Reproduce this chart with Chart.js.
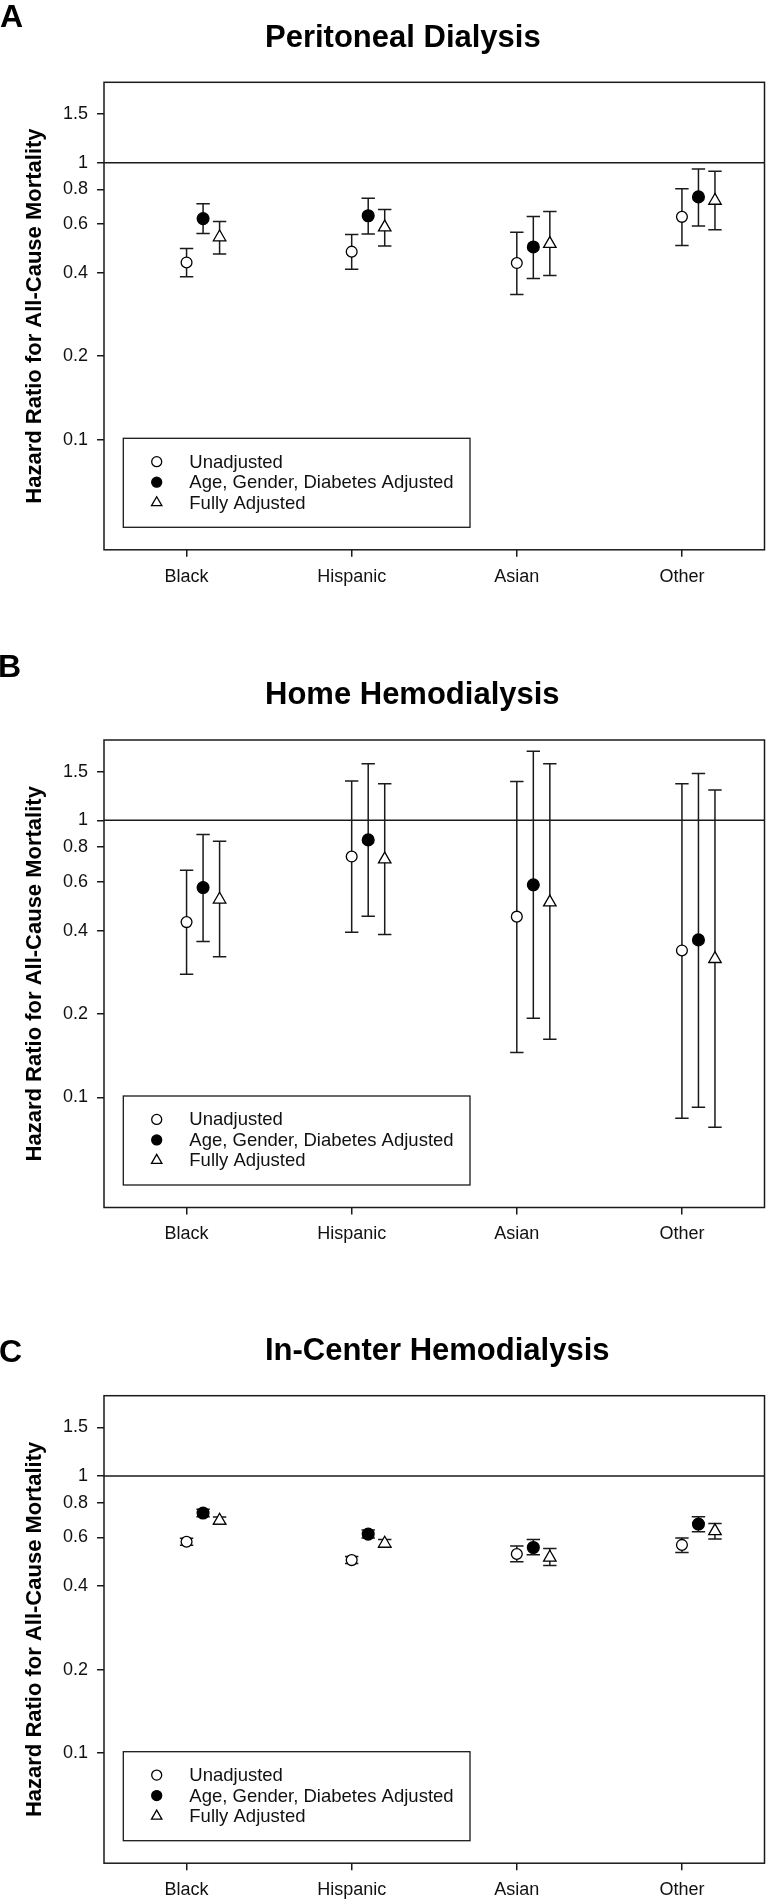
<!DOCTYPE html>
<html>
<head>
<meta charset="utf-8">
<script src="https://cdn.jsdelivr.net/npm/chart.js@4.4.1/dist/chart.umd.min.js"></script>
<style>
  html, body { margin: 0; padding: 0; background: #fff; }
  body { position: relative; width: 773px; height: 1899px; overflow: hidden; }
  canvas { position: absolute; left: 0; }
</style>
</head>
<body>
<canvas id="chartPD" width="773" height="620" style="top:0px"></canvas>
<canvas id="chartHHD" width="773" height="620" style="top:640px"></canvas>
<canvas id="chartICHD" width="773" height="620" style="top:1300px"></canvas>
<script>
const categories = ["Black", "Hispanic", "Asian", "Other"];
const seriesNames = ["Unadjusted", "Age, Gender, Diabetes Adjusted", "Fully Adjusted"];
const tickValues = [0.1, 0.2, 0.4, 0.6, 0.8, 1, 1.5];
const yMin = 0.04;
const yMax = 1.95;

// each entry is [lower CI, hazard ratio, upper CI], one per category
const pdUnadjusted = [[0.387, 0.436, 0.490], [0.412, 0.477, 0.550], [0.334, 0.434, 0.561], [0.502, 0.637, 0.804]];
const pdPartial    = [[0.555, 0.628, 0.710], [0.553, 0.643, 0.744], [0.382, 0.496, 0.639], [0.591, 0.752, 0.949]];
const pdFull       = [[0.468, 0.538, 0.613], [0.500, 0.584, 0.677], [0.391, 0.509, 0.666], [0.572, 0.729, 0.931]];

const hhdUnadjusted = [[0.278, 0.429, 0.660], [0.394, 0.740, 1.387], [0.145, 0.449, 1.382], [0.084, 0.339, 1.356]];
const hhdPartial    = [[0.365, 0.572, 0.888], [0.450, 0.850, 1.602], [0.193, 0.585, 1.775], [0.092, 0.370, 1.477]];
const hhdFull       = [[0.322, 0.518, 0.840], [0.387, 0.723, 1.356], [0.162, 0.506, 1.602], [0.078, 0.316, 1.287]];

const ichdUnadjusted = [[0.563, 0.579, 0.596], [0.483, 0.497, 0.512], [0.490, 0.523, 0.559], [0.529, 0.564, 0.597]];
const ichdPartial    = [[0.713, 0.735, 0.758], [0.597, 0.617, 0.638], [0.520, 0.552, 0.590], [0.629, 0.671, 0.713]];
const ichdFull       = [[0.671, 0.691, 0.712], [0.553, 0.571, 0.590], [0.475, 0.508, 0.547], [0.592, 0.633, 0.674]];

const FONT = "'Liberation Sans', Arial, Helvetica, sans-serif";
const INK = "#1a1a1a";
const seriesOffset = [0, 0.1, 0.2];
const seriesStyle = [
    { pointStyle: "circle", radius: 5.4, fill: "#fff" },
    { pointStyle: "circle", radius: 5.9, fill: "#000" },
    { pointStyle: "triangle", radius: 7.2, fill: "#fff" },
];

function drawMarker(ctx, style, x, y, radius) {
    ctx.save();
    ctx.fillStyle = style.fill;
    ctx.strokeStyle = "#000";
    ctx.lineWidth = 1.3;
    Chart.helpers.drawPoint(ctx, { pointStyle: style.pointStyle, radius: radius, rotation: 0, borderWidth: 1.3 }, x, y);
    ctx.restore();
}

const panelDecor = {
    id: "panelDecor",
    beforeDatasetsDraw(chart, args, opts) {
        const { ctx, chartArea: a, scales } = chart;
        ctx.save();
        ctx.strokeStyle = INK;
        ctx.lineWidth = 1.5;
        // reference line at HR = 1
        const y1 = scales.y.getPixelForValue(1);
        ctx.beginPath();
        ctx.moveTo(a.left, y1);
        ctx.lineTo(a.right, y1);
        ctx.stroke();
        // frame
        ctx.strokeRect(a.left, a.top, a.right - a.left, a.bottom - a.top);

        // confidence interval whiskers
        chart.data.datasets.forEach((ds, di) => {
            const meta = chart.getDatasetMeta(di);
            meta.data.forEach((pt, i) => {
                const lo = scales.y.getPixelForValue(ds.errorBars[i][0]);
                const hi = scales.y.getPixelForValue(ds.errorBars[i][1]);
                ctx.beginPath();
                ctx.moveTo(pt.x, lo);
                ctx.lineTo(pt.x, hi);
                ctx.moveTo(pt.x - 6.7, lo);
                ctx.lineTo(pt.x + 6.7, lo);
                ctx.moveTo(pt.x - 6.7, hi);
                ctx.lineTo(pt.x + 6.7, hi);
                ctx.stroke();
            });
        });
        ctx.restore();
    },
    afterDraw(chart, args, opts) {
        const { ctx, chartArea: a } = chart;
        ctx.save();
        ctx.fillStyle = "#000";
        ctx.textBaseline = "alphabetic";
        ctx.textAlign = "left";
        ctx.font = "bold 32px " + FONT;
        ctx.fillText(opts.letter, opts.letterX, opts.letterBase);
        ctx.font = "bold 31px " + FONT;
        ctx.fillText(opts.title, 265, a.top - 35.6);

        // legend box
        const top = a.top + 356;
        ctx.strokeStyle = INK;
        ctx.lineWidth = 1.3;
        ctx.strokeRect(123.3, top, 346.7, 89);
        ctx.font = "18.5px " + FONT;
        ctx.textBaseline = "middle";
        chart.data.datasets.forEach((ds, di) => {
            const y = top + 23.4 + di * 20.5;
            drawMarker(ctx, seriesStyle[di], 156.7, y, di === 2 ? 6 : 5);
            ctx.fillStyle = "#111";
            ctx.fillText(ds.label, 189.3, y + 1);
        });
        ctx.restore();
    },
};

function makePanel(canvasId, letter, title, seriesData, layout) {
    const plotH = 467.5;
    const xAxisH = 50;
    const datasets = seriesData.map((values, s) => ({
        label: seriesNames[s],
        data: values.map((d, i) => ({ x: i + seriesOffset[s], y: d[1] })),
        errorBars: values.map(d => [d[0], d[2]]),
        pointStyle: seriesStyle[s].pointStyle,
        pointRadius: seriesStyle[s].radius,
        pointHoverRadius: seriesStyle[s].radius,
        pointBackgroundColor: seriesStyle[s].fill,
        pointBorderColor: "#000",
        pointBorderWidth: 1.3,
        showLine: false,
    }));

    new Chart(document.getElementById(canvasId), {
        type: "scatter",
        data: { datasets },
        plugins: [panelDecor],
        options: {
            responsive: false,
            animation: false,
            events: [],
            layout: {
                padding: {
                    top: layout.plotTop,
                    left: 0,
                    right: 2.5,
                    bottom: layout.canvasH - layout.plotTop - plotH - xAxisH,
                },
            },
            plugins: {
                legend: { display: false },
                tooltip: { enabled: false },
                panelDecor: { letter, title, letterX: layout.letterX, letterBase: layout.letterBase },
            },
            scales: {
                x: {
                    type: "linear",
                    min: -0.5,
                    max: 3.5,
                    afterFit: (scale) => { scale.height = xAxisH; },
                    afterBuildTicks: (scale) => { scale.ticks = categories.map((c, i) => ({ value: i })); },
                    ticks: {
                        autoSkip: false,
                        maxRotation: 0,
                        padding: 9,
                        color: "#111",
                        font: { family: FONT, size: 18 },
                        callback: (v) => categories[v],
                    },
                    grid: { drawOnChartArea: false, drawTicks: true, tickLength: 7, color: INK, lineWidth: 1.5 },
                    border: { display: false },
                },
                y: {
                    type: "logarithmic",
                    min: yMin,
                    max: yMax,
                    afterFit: (scale) => { scale.width = 104; },
                    afterBuildTicks: (scale) => { scale.ticks = tickValues.map(v => ({ value: v })); },
                    ticks: {
                        autoSkip: false,
                        padding: 9,
                        color: "#111",
                        font: { family: FONT, size: 18 },
                        callback: (v) => String(v),
                    },
                    grid: { drawOnChartArea: false, drawTicks: true, tickLength: 7, color: INK, lineWidth: 1.5 },
                    border: { display: false },
                    title: {
                        display: true,
                        text: "Hazard Ratio for All-Cause Mortality",
                        color: "#000",
                        font: { family: FONT, size: 22, weight: "bold" },
                        padding: { top: 22, bottom: 0 },
                    },
                },
            },
        },
    });
}

makePanel("chartPD", "A", "Peritoneal Dialysis", [pdUnadjusted, pdPartial, pdFull],
    { plotTop: 82.3, canvasH: 620, letterX: 0, letterBase: 26.5 });
makePanel("chartHHD", "B", "Home Hemodialysis", [hhdUnadjusted, hhdPartial, hhdFull],
    { plotTop: 100, canvasH: 620, letterX: -2, letterBase: 36.6 });
makePanel("chartICHD", "C", "In-Center Hemodialysis", [ichdUnadjusted, ichdPartial, ichdFull],
    { plotTop: 95.7, canvasH: 620, letterX: -1, letterBase: 62 });
</script>
</body>
</html>
